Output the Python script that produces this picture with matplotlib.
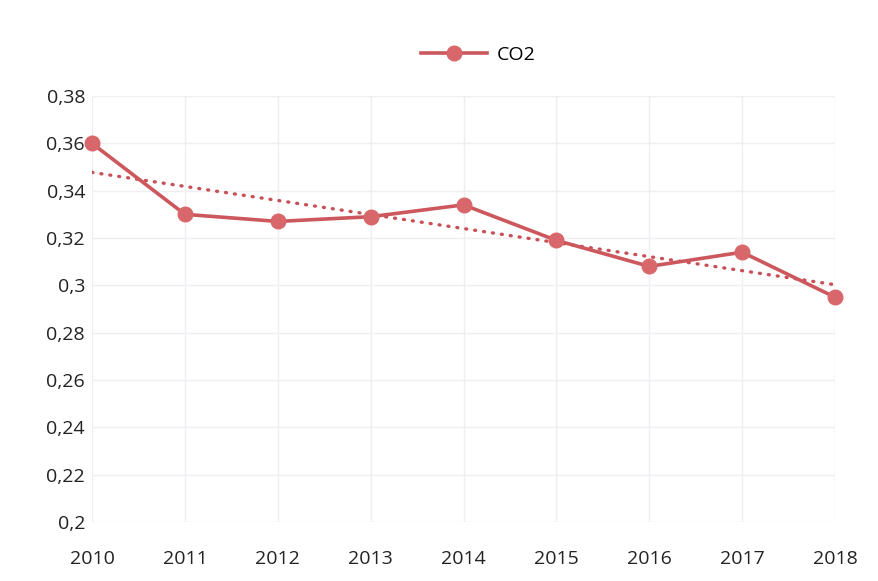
import matplotlib
matplotlib.use("Agg")
import matplotlib.pyplot as plt
import numpy as np

years = [2010, 2011, 2012, 2013, 2014, 2015, 2016, 2017, 2018]
co2 = [0.360, 0.330, 0.327, 0.329, 0.334, 0.319, 0.308, 0.314, 0.295]
yticks = [0.20, 0.22, 0.24, 0.26, 0.28, 0.30, 0.32, 0.34, 0.36, 0.38]
ytick_labels = ["0,2", "0,22", "0,24", "0,26", "0,28", "0,3", "0,32", "0,34", "0,36", "0,38"]

plt.rcParams['font.family'] = ['Open Sans', 'DejaVu Sans']

fig = plt.figure(figsize=(8.79, 5.81), dpi=100)
ax = fig.add_axes([92/879, 1-522/581, (835-92)/879, (522-96)/581])

line_color = '#cc585d'
marker_color = '#d8676b'

# trendline (linear fit)
x = np.arange(len(years))
coef = np.polyfit(x, co2, 1)
trend = np.polyval(coef, x)
ax.plot(years, trend, linestyle=(0, (0.3, 2.4)), color='#c94f57', lw=2.4, zorder=2,
        dash_capstyle='round', solid_capstyle='round')

ax.plot(years, co2, color=line_color, lw=2.6, marker='o', markersize=10.5,
        markerfacecolor=marker_color, markeredgecolor=marker_color, zorder=3, label='CO2',
        clip_on=False)

ax.set_xlim(2010, 2018)
ax.set_ylim(0.2, 0.38)
ax.set_yticks(yticks)
ax.set_yticklabels(ytick_labels)
ax.set_xticks(years)
ax.set_xticklabels([str(y) for y in years])

for s in ax.spines.values():
    s.set_visible(False)
ax.grid(True, color='#efeff3', lw=1.0)
ax.set_axisbelow(True)
ax.tick_params(length=0, labelsize=14, colors='#222222')
ax.tick_params(axis='x', pad=20)
ax.tick_params(axis='y', pad=5)

leg = fig.legend(loc='center', bbox_to_anchor=(478/879, 1-55/581), frameon=False,
                 fontsize=14, handlelength=3.4, handletextpad=0.5)

fig.savefig("out.png", dpi=100, facecolor='white')
